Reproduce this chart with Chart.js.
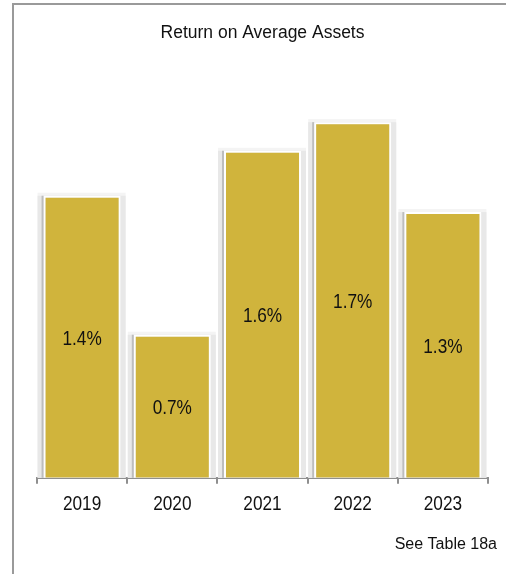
<!DOCTYPE html>
<html>
<head>
<meta charset="utf-8">
<script src="https://cdn.jsdelivr.net/npm/chart.js@4"></script>
<style>
  html, body { margin: 0; padding: 0; background: #fff; }
  #wrap { position: relative; width: 506px; height: 574px; }
  #frame {
    position: absolute; left: 12px; top: 3px; right: -2px; bottom: -2px;
    border-left: 2px solid #9a9a9a; border-top: 2px solid #9a9a9a;
    pointer-events: none;
  }
</style>
</head>
<body>
<div id="wrap">
  <canvas id="chart" width="506" height="574"></canvas>
  <div id="frame"></div>
</div>
<script>
// Chart data
const years = ['2019', '2020', '2021', '2022', '2023'];
const roaa = [1.38, 0.70, 1.60, 1.74, 1.30];
const chartTitle = 'Return on Average Assets';
const footNote = 'See Table 18a';

const regular = '"Liberation Sans", Arial, sans-serif';
const labelSize = 21;
const tickPad = 8;

// No narrow Arial installed: squeeze regular text horizontally instead
function narrowText(ctx, text, x, y) {
    ctx.save();
    ctx.translate(x, y);
    ctx.scale(0.82, 1);
    ctx.fillText(text, 0, 0);
    ctx.restore();
}

// Grey backdrop behind each bar (3D-ish look of the original)
const barShadow = {
    id: 'barShadow',
    beforeDatasetsDraw(chart) {
        const ctx = chart.ctx;
        chart.getDatasetMeta(0).data.forEach(bar => {
            const p = bar.getProps(['x', 'y', 'base', 'width'], true);
            const left = p.x - p.width / 2;
            ctx.save();
            ctx.fillStyle = '#f4f4f4';
            ctx.fillRect(left - 6, p.y - 3, p.width + 11, p.base - p.y + 3);
            ctx.fillStyle = '#e8e8e8';
            ctx.fillRect(left - 6, p.y, p.width + 11, p.base - p.y);
            ctx.fillStyle = '#bdbdbd';
            ctx.fillRect(left - 2, p.y, 2, p.base - p.y);
            ctx.restore();
        });
    }
};

// Value labels, x tick labels (narrow) and footnote
const textLayer = {
    id: 'textLayer',
    afterDraw(chart) {
        const ctx = chart.ctx;
        const xs = chart.scales.x;
        ctx.save();
        ctx.font = labelSize + 'px ' + regular;
        ctx.fillStyle = '#111';
        ctx.textAlign = 'center';
        ctx.textBaseline = 'middle';
        chart.getDatasetMeta(0).data.forEach((bar, i) => {
            const c = bar.getCenterPoint();
            narrowText(ctx, roaa[i].toFixed(1) + '%', c.x, c.y + 2);
        });
        const ty = xs.top + 6 + tickPad + labelSize * 0.6;
        years.forEach((y, i) => {
            narrowText(ctx, y, xs.getPixelForTick(i), ty);
        });
        ctx.font = '16px ' + regular;
        ctx.textAlign = 'right';
        ctx.fillText(footNote, 497, 545);
        ctx.restore();
    }
};

const ctx = document.getElementById('chart').getContext('2d');

new Chart(ctx, {
    type: 'bar',
    data: {
        labels: years,
        datasets: [{
            data: roaa,
            backgroundColor: '#d0b43c',
            borderColor: '#ffffff',
            borderWidth: 2,
            borderSkipped: 'bottom',
            categoryPercentage: 1,
            barPercentage: 0.854
        }]
    },
    options: {
        responsive: false,
        animation: false,
        events: [],
        layout: {
            padding: { left: 37, right: 18, top: 0, bottom: 49 }
        },
        plugins: {
            legend: { display: false },
            tooltip: { enabled: false },
            title: {
                display: true,
                text: chartTitle,
                color: '#111',
                font: { family: regular, size: 17.5, weight: 'normal' },
                padding: { top: 23, bottom: 25 }
            }
        },
        scales: {
            x: {
                border: { display: true, color: '#8f8f8f', width: 2 },
                grid: {
                    display: true,
                    drawOnChartArea: false,
                    drawTicks: true,
                    tickLength: 6,
                    color: '#8f8f8f',
                    lineWidth: 2
                },
                ticks: {
                    color: 'rgba(0,0,0,0)',
                    padding: tickPad,
                    font: { family: regular, size: labelSize }
                }
            },
            y: {
                display: false,
                min: 0,
                max: 2.0
            }
        }
    },
    plugins: [barShadow, textLayer]
});
</script>
</body>
</html>
